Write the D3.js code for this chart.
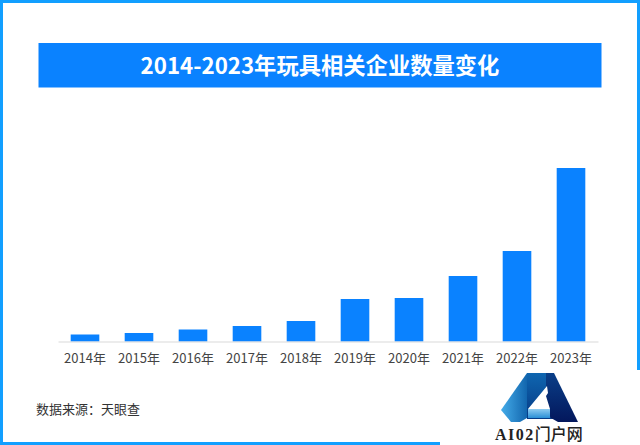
<!DOCTYPE html>
<html>
<head>
<meta charset="utf-8">
<script src="https://cdn.jsdelivr.net/npm/d3@7"></script>
<style>
    html, body { margin: 0; padding: 0; background: #fff; overflow: hidden; }
    svg { display: block; }
    text { font-family: "Noto Sans CJK SC", "Noto Sans", sans-serif; }
</style>
</head>
<body>
<script>
    //chart data, values (no value axis in the picture)
    var years = ["2014年", "2015年", "2016年", "2017年", "2018年", "2019年", "2020年", "2021年", "2022年", "2023年"];
    var companies = [7, 8.5, 12, 15.5, 20.5, 42.5, 43.5, 65.5, 90.5, 173.5];
    var chartTitle = "2014-2023年玩具相关企业数量变化";
    var sourceNote = "数据来源：天眼查";
    var logoLatin = "AI02";
    var logoCjk = "门户网";

    var width = 640,
        height = 445;

    var svg = d3.select("body")
        .append("svg")
        .attr("width", width)
        .attr("height", height);

    //page frame
    svg.append("rect")
        .attr("x", 1.5)
        .attr("y", 1.5)
        .attr("width", width - 3)
        .attr("height", height - 3)
        .attr("fill", "#fff")
        .attr("stroke", "#129fff")
        .attr("stroke-width", 3);

    //title band
    svg.append("rect")
        .attr("x", 38.5)
        .attr("y", 43)
        .attr("width", 563)
        .attr("height", 44.5)
        .attr("fill", "#0a82ff");

    svg.append("text")
        .attr("x", 320)
        .attr("y", 73.5)
        .attr("text-anchor", "middle")
        .attr("font-size", 22.3)
        .attr("font-weight", 700)
        .attr("fill", "#fff")
        .text(chartTitle);

    //scales
    var xScale = d3.scaleBand()
        .domain(years)
        .range([58, 598])
        .paddingInner(0.47)
        .paddingOuter(0.235);

    var yScale = d3.scaleLinear()
        .domain([0, 175])
        .range([341.5, 166.5]);

    //bars
    svg.selectAll(".bars")
        .data(companies)
        .enter()
        .append("rect")
        .attr("class", "bars")
        .attr("x", function (d, i) {
            return xScale(years[i]);
        })
        .attr("y", function (d) {
            return yScale(d);
        })
        .attr("width", xScale.bandwidth())
        .attr("height", function (d) {
            return yScale(0) - yScale(d);
        })
        .attr("fill", "#0a82ff");

    //category axis
    var xAxis = svg.append("g")
        .attr("transform", "translate(0,341.5)")
        .call(d3.axisBottom(xScale).tickSize(0).tickPadding(12));

    xAxis.select(".domain")
        .attr("stroke", "#d9d9d9");

    xAxis.selectAll("text")
        .attr("font-family", "\"Noto Sans CJK SC\", sans-serif")
        .attr("font-size", 13)
        .attr("fill", "#444");

    //source
    svg.append("text")
        .attr("x", 36)
        .attr("y", 414)
        .attr("font-size", 13)
        .attr("fill", "#333")
        .text(sourceNote);

    //watermark, sits on a white patch over the frame
    svg.append("rect")
        .attr("x", 440)
        .attr("y", 370)
        .attr("width", 200)
        .attr("height", 75)
        .attr("fill", "#fff");

    var defs = svg.append("defs");

    function addGradient(id, x2, y2, stops) {
        var grad = defs.append("linearGradient")
            .attr("id", id)
            .attr("x1", 0).attr("y1", 0)
            .attr("x2", x2).attr("y2", y2);
        stops.forEach(function (s, i) {
            grad.append("stop")
                .attr("offset", i / (stops.length - 1))
                .attr("stop-color", s);
        });
    }
    addGradient("logoLeft", 1, 0, ["#45ace9", "#1266ae"]);
    addGradient("logoMid", 0, 1, ["#0f66b0", "#063a85"]);
    addGradient("logoRight", 0, 1, ["#0a3f88", "#03175c"]);
    addGradient("logoBase", 0, 1, ["#8ecbf0", "#2a8fd6"]);

    var logo = svg.append("g");
    logo.append("path")
        .attr("d", "M527 373L501 410L511 422L520 422L527 418Z")
        .attr("fill", "url(#logoLeft)");
    logo.append("path")
        .attr("d", "M527 373L554 373L554 419L527 419Z")
        .attr("fill", "url(#logoMid)");
    logo.append("path")
        .attr("d", "M546 373L554 373L578 422L558 422L551 418L546 409Z")
        .attr("fill", "url(#logoRight)");
    logo.append("path")
        .attr("d", "M528 409L547 386L548 393L546 396L550 409Z")
        .attr("fill", "#fff");
    logo.append("path")
        .attr("d", "M528 409L550 409L550 418L528 418Z")
        .attr("fill", "url(#logoBase)");

    var logoLabel = svg.append("text")
        .attr("x", 495)
        .attr("y", 440)
        .attr("font-size", 16)
        .attr("fill", "#222");

    logoLabel.append("tspan")
        .attr("font-family", "\"Liberation Serif\", serif")
        .attr("font-weight", 700)
        .attr("letter-spacing", 1.5)
        .text(logoLatin);

    logoLabel.append("tspan")
        .attr("font-family", "\"Noto Sans CJK SC\", sans-serif")
        .attr("font-weight", 500)
        .text(logoCjk);
</script>
</body>
</html>
